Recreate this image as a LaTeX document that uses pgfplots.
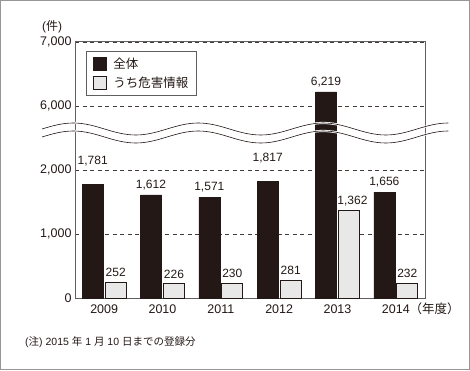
\documentclass[border=0pt]{standalone}
\usepackage{pgfplots}
\usepackage{pgfplotstable}
\pgfplotsset{compat=1.18}
\usepackage{fontspec}
\setmainfont{Liberation Sans}
\newfontfamily\jp{Noto Sans CJK JP}
\definecolor{barblack}{RGB}{35,24,21}
\definecolor{bargray}{RGB}{232,232,232}
\definecolor{framegray}{RGB}{150,150,150}
\definecolor{axisgray}{RGB}{95,95,95}
\pgfplotsset{sqlegend/.style={legend image code/.code={\draw[##1,/tikz/.cd,line width=0.6pt] (0pt,-6.5pt) rectangle (13pt,6.5pt);}}}

% total (dx, dy = label offsets in pt)
\pgfplotstableread{
x v lab dx dy
0 1781 1,781 0 13
1 1612 1,612 0 0
2 1571 1,571 0 0
3 1817 1,817 0 14
4 6219 6,219 0 0
5 1656 1,656 0 0
}\totaltab
% of which: hazard information
\pgfplotstableread{
x v lab dx dy
0 252 252 0 0
1 226 226 0 0
2 230 230 0 0
3 281 281 0 0
4 1362 1,362 3.5 0
5 232 232 0 0
}\hazardtab

\begin{document}
\begin{tikzpicture}[x=1pt,y=1pt]
\useasboundingbox (0,0) rectangle (470,370);
\draw[framegray, line width=1pt] (0.5,0.5) rectangle (469.5,369.5);
\begin{axis}[
  at={(75pt,72pt)}, anchor=south west,
  scale only axis, width=350pt, height=256pt,
  ybar, bar width=21pt,
  xmin=-0.5, xmax=5.5, ymin=0, ymax=4000,
  xtick={0,1,2,3,4,5},
  xticklabels={2009,2010,2011,2012,2013,{2014\rlap{\jp （年度）}}},
  ytick={0,1000,2000,3000,4000},
  yticklabels={0,{1,000},{2,000},{6,000},{7,000}},
  major tick length=0pt,
  ymajorgrids,
  grid style={dash pattern=on 4pt off 3.5pt, line width=0.8pt, barblack!85},
  axis line style={axisgray, line width=1pt},
  tick label style={font=\fontsize{12.5}{15}\selectfont, text=barblack},
  xticklabel style={text height=9pt, text depth=0pt, yshift=-3pt},
  /pgf/number format/assume math mode=true,
  legend style={at={(axis description cs:0.0314,0.965)}, anchor=north west,
    draw=axisgray, line width=0.8pt, font=\jp\fontsize{12.5}{15}\selectfont,
    inner xsep=7pt, inner ysep=6pt, row sep=5pt, column sep=6pt, text=barblack,
    nodes={inner sep=0.5pt}},
  legend cell align=left,
  point meta=explicit symbolic,
  nodes near coords,
  nodes near coords style={font=\fontsize{12}{14}\selectfont, text=barblack,
    yshift={\dy pt+1.5pt}, xshift={\dx pt}},
  visualization depends on={\thisrow{dy}\as\dy},
  visualization depends on={\thisrow{dx}\as\dx},
]
\addplot[bar shift=-11.5pt, fill=barblack, draw=barblack, line width=0.6pt, sqlegend]
  table[x=x, y expr={\thisrow{v}>2500 ? \thisrow{v}-3000 : \thisrow{v}}, meta=lab]{\totaltab};
\addlegendentry{全体}
\addplot[bar shift=11.5pt, fill=bargray, draw=barblack, line width=0.7pt, sqlegend]
  table[x=x, y expr={\thisrow{v}>2500 ? \thisrow{v}-3000 : \thisrow{v}}, meta=lab]{\hazardtab};
\addlegendentry{うち危害情報\hspace{4pt}}
\end{axis}
% axis break
\foreach \s in {0,-8} {
  \draw[white, line width=2.2pt, yshift=\s pt] (42,241) sin (73.25,247) cos (104.5,241) sin (135.75,235) cos (167,241) sin (198.25,247) cos (229.5,241) sin (260.75,235) cos (292,241) sin (323.25,247) cos (354.5,241) sin (385.75,235) cos (417,241) sin (448.25,247);
  \draw[barblack, line width=0.6pt, yshift=\s pt] (42,241) sin (73.25,247) cos (104.5,241) sin (135.75,235) cos (167,241) sin (198.25,247) cos (229.5,241) sin (260.75,235) cos (292,241) sin (323.25,247) cos (354.5,241) sin (385.75,235) cos (417,241) sin (448.25,247);
}
\node[text=barblack, font=\fontsize{12}{14}\selectfont] at (52,343) {(\jp 件\rmfamily)};
\node[anchor=west, inner sep=0pt, text=barblack, font=\fontsize{10.5}{12}\selectfont] at (25,28)
  {(\jp 注\rmfamily) 2015 {\jp 年} 1 {\jp 月} 10 {\jp 日までの登録分}};
\end{tikzpicture}
\end{document}
